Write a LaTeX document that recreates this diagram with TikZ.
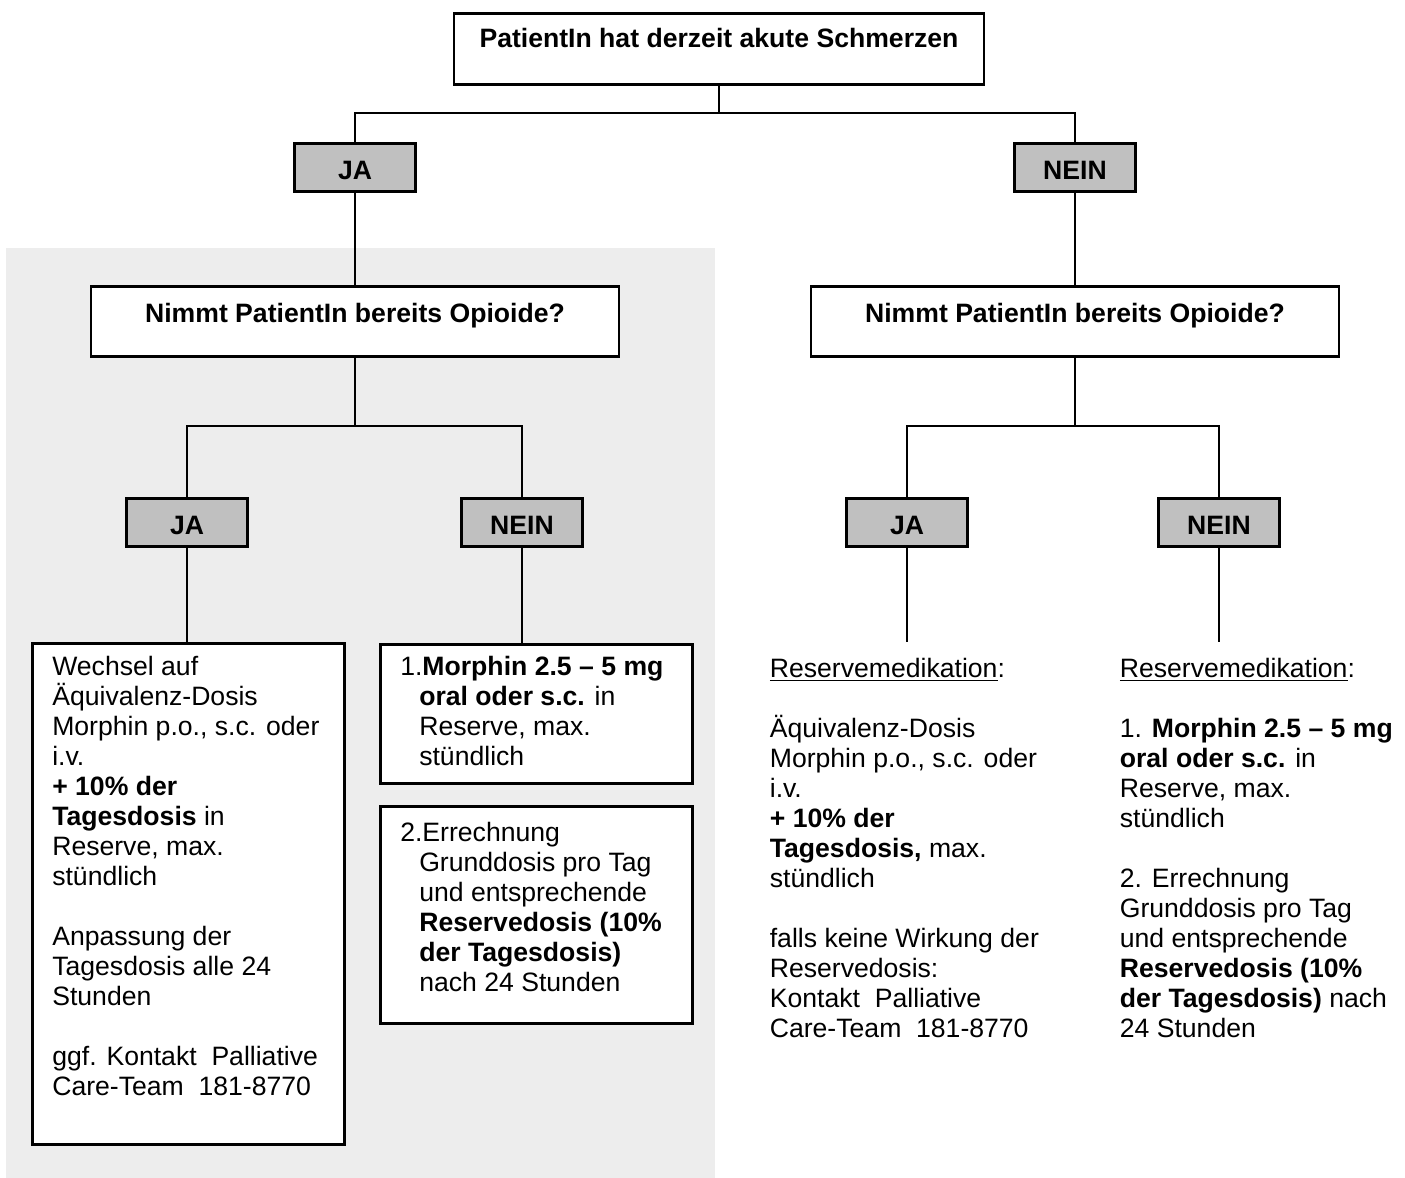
\documentclass[tikz,border=0pt]{standalone}
\usepackage{fontspec}
\setmainfont{Liberation Sans}
\usetikzlibrary{calc}
\definecolor{BackGray}{HTML}{EDEDED}
\definecolor{AnswerGray}{HTML}{C0C0C0}

\begin{document}
\begin{tikzpicture}[
        %Environment config
        x=0.5pt, y=-0.5pt,
        font=\fontsize{13.3}{15}\selectfont,
        line width=0.85pt,
        %Environment styles
        QuestionCfg/.style={
            draw, fill=white, line width=1.3pt,
            anchor=north, inner sep=0pt,
            font=\fontsize{13.3}{15}\selectfont\bfseries,
            text height=18pt, text depth=17pt
        },
        AnswerCfg/.style={
            draw, fill=AnswerGray, line width=1.3pt,
            anchor=north, minimum width=60.5pt, inner sep=0pt,
            font=\fontsize{13.3}{15}\selectfont\bfseries,
            text height=18pt, text depth=6pt
        },
        BoxCfg/.style={
            draw, fill=white, line width=1.3pt, anchor=north west,
            inner xsep=10pt, inner ysep=0pt,
            text width=136pt, align=flush left
        },
        NoteCfg/.style={
            anchor=north west, inner sep=0pt,
            text width=145pt, align=flush left, text height=17.25pt
        }
    ]
    \path[use as bounding box, fill=white] (0,0) rectangle (1405,1178);
    \fill[BackGray] (6,248) rectangle (715,1178);

    \path
        (719,12) node[QuestionCfg, minimum width=265pt,
            text height=17pt, text depth=18.5pt](Pain){PatientIn hat derzeit akute Schmerzen}
        (355,142) node[AnswerCfg](JA1){JA}
        (1075,142) node[AnswerCfg](NEIN1){NEIN}
        (355,285) node[QuestionCfg, minimum width=264pt](OpioidL){Nimmt PatientIn bereits Opioide?}
        (1075,285) node[QuestionCfg, minimum width=264pt](OpioidR){Nimmt PatientIn bereits Opioide?}
        (187,497) node[AnswerCfg](JA2){JA}
        (522,497) node[AnswerCfg](NEIN2){NEIN}
        (907,497) node[AnswerCfg](JA3){JA}
        (1219,497) node[AnswerCfg](NEIN3){NEIN};

    % answers of the left branch
    \path
        (31,642) node[BoxCfg, text height=16.25pt, text depth=234.25pt](DoseSwitch){%
            Wechsel auf\\
            Äquivalenz-Dosis\\
            Morphin p.o., s.c. oder\\
            i.v.\\
            \textbf{+ 10\% der}\\
            \textbf{Tagesdosis} in\\
            Reserve, max.\\
            stündlich\\[15pt]
            Anpassung der\\
            Tagesdosis alle 24\\
            Stunden\\[15pt]
            ggf. Kontakt~~Palliative\\
            Care-Team~~181-8770}
        (379,643) node[BoxCfg, text height=15.75pt, text depth=53.75pt](MorphinL){%
            1.\textbf{Morphin 2.5 -- 5 mg}\\
            \hspace*{9.5pt}\textbf{oral oder s.c.} in\\
            \hspace*{9.5pt}Reserve, max.\\
            \hspace*{9.5pt}stündlich}
        (379,805) node[BoxCfg, text height=17.75pt, text depth=90.75pt](BaseDoseL){%
            2.Errechnung\\
            \hspace*{9.5pt}Grunddosis pro Tag\\
            \hspace*{9.5pt}und entsprechende\\
            \hspace*{9.5pt}\textbf{Reservedosis (10\%}\\
            \hspace*{9.5pt}\textbf{der Tagesdosis)}\\
            \hspace*{9.5pt}nach 24 Stunden};

    % answers of the right branch
    \path
        (769,642) node[NoteCfg](ResJA){%
            \underline{Reservemedikation}:\\[15pt]
            Äquivalenz-Dosis\\
            Morphin p.o., s.c. oder\\
            i.v.\\
            \textbf{+ 10\% der}\\
            \textbf{Tagesdosis,} max.\\
            stündlich\\[15pt]
            falls keine Wirkung der\\
            Reservedosis:\\
            Kontakt~~Palliative\\
            Care-Team~~181-8770}
        (1119,642) node[NoteCfg](ResNEIN){%
            \underline{Reservemedikation}:\\[15pt]
            1. \textbf{Morphin 2.5 -- 5 mg}\\
            \textbf{oral oder s.c.} in\\
            Reserve, max.\\
            stündlich\\[15pt]
            2. Errechnung\\
            Grunddosis pro Tag\\
            und entsprechende\\
            \textbf{Reservedosis (10\%}\\
            \textbf{der Tagesdosis)} nach\\
            24 Stunden};

    \draw
        (JA1.north) -- ++(0,-29) coordinate (fork1) -| (NEIN1.north)
        (Pain.south) -- (Pain.south |- fork1)
        (JA1.south) -- (OpioidL.north)
        (NEIN1.south) -- (OpioidR.north)
        (JA2.north) -- ++(0,-71) coordinate (fork2) -| (NEIN2.north)
        (OpioidL.south) -- (OpioidL.south |- fork2)
        (JA3.north) -- ++(0,-71) coordinate (fork3) -| (NEIN3.north)
        (OpioidR.south) -- (OpioidR.south |- fork3)
        (JA2.south) -- (JA2.south |- DoseSwitch.north)
        (NEIN2.south) -- (NEIN2.south |- MorphinL.north)
        (JA3.south) -- (JA3.south |- ResJA.north)
        (NEIN3.south) -- (NEIN3.south |- ResNEIN.north);
\end{tikzpicture}
\end{document}
